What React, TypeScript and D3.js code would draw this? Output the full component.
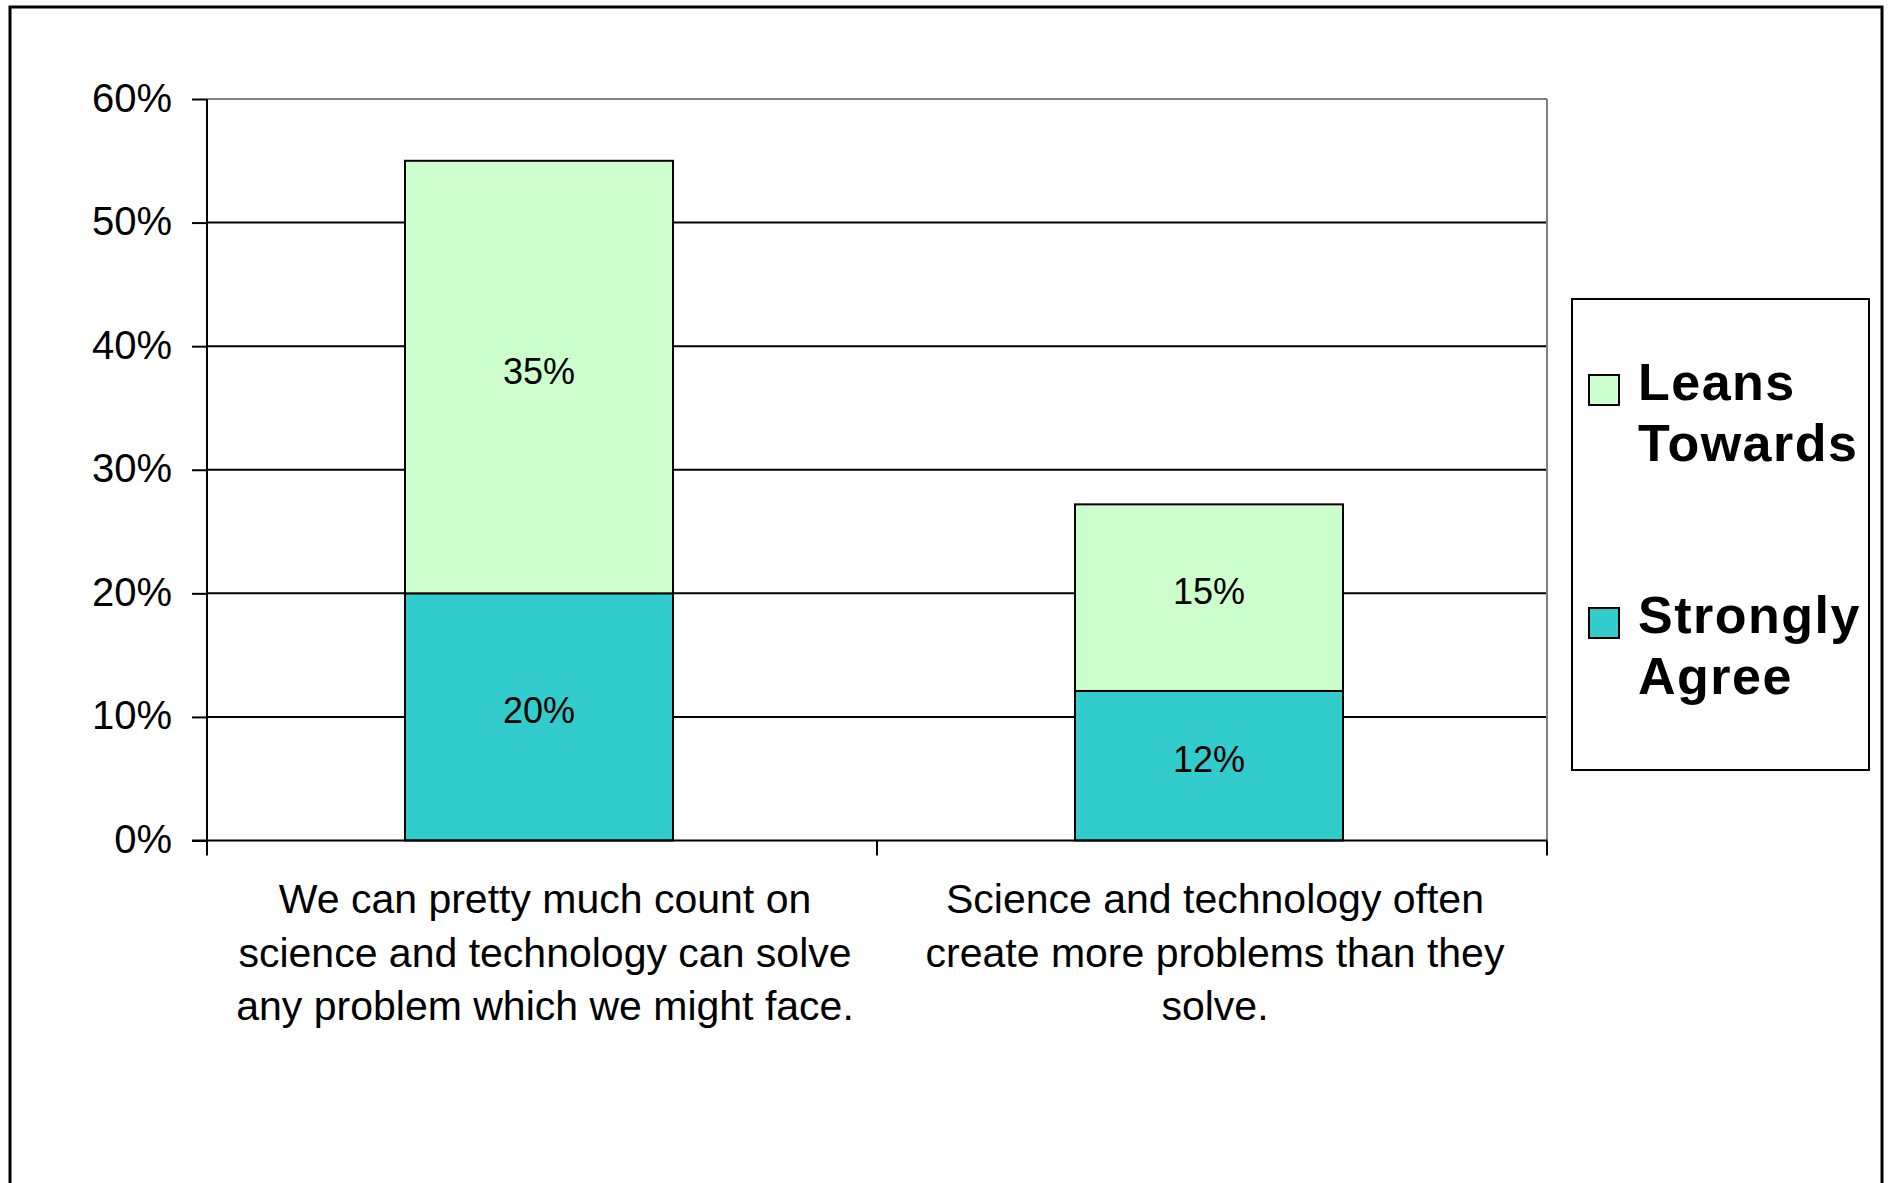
import React, { useEffect, useRef } from 'react';
import * as d3 from 'd3';

const categories = ['q1', 'q2'];
const categoryLines = [
  ['We can pretty much count on', 'science and technology can solve', 'any problem which we might face.'],
  ['Science and technology often', 'create more problems than they', 'solve.'],
];
const stronglyAgree = [20, 12.1];
const leansTowards = [35, 15.1];
const yTicks = [0, 10, 20, 30, 40, 50, 60];
const seriesKeys = ['strongly', 'leans'];
const seriesNames = [['Strongly', 'Agree'], ['Leans', 'Towards']];
const seriesColors = ['#33CCCC', '#CCFFCC'];

export default function App() {
  const svgRef = useRef<SVGSVGElement>(null);

  useEffect(() => {
    if (!svgRef.current) return;
    const root = d3.select(svgRef.current);
    root.selectAll('*').remove();

    const plot = { left: 207, top: 99, right: 1547, bottom: 840.5 };
    const font = '"Liberation Sans", Arial, sans-serif';

    // Outer frame (bottom edge runs off the picture)
    root
      .append('rect')
      .attr('x', 10)
      .attr('y', 7)
      .attr('width', 1872)
      .attr('height', 1400)
      .attr('fill', 'white')
      .attr('stroke', '#000')
      .attr('stroke-width', 3);

    const x = d3
      .scaleBand<string>()
      .domain(categories)
      .range([plot.left - 3, plot.right - 3])
      .paddingInner(0.6)
      .paddingOuter(0.3);

    // Category slots (axis ticks sit on their edges)
    const xCat = d3.scaleBand<string>().domain(categories).range([plot.left, plot.right]);

    const y = d3.scaleLinear().domain([0, 60]).range([plot.bottom, plot.top]);

    const table = categories.map((c, i) => ({
      cat: c,
      strongly: stronglyAgree[i],
      leans: leansTowards[i],
    }));
    const stacked = d3.stack<any>().keys(seriesKeys)(table);

    // Grid lines
    root
      .append('g')
      .selectAll('line')
      .data(yTicks.filter(t => t > 0))
      .join('line')
      .attr('x1', plot.left)
      .attr('x2', plot.right)
      .attr('y1', d => y(d))
      .attr('y2', d => y(d))
      .attr('stroke', d => (d === 60 ? '#808080' : '#000'))
      .attr('stroke-width', 2);

    // Right edge of the plot area
    root
      .append('line')
      .attr('x1', plot.right)
      .attr('x2', plot.right)
      .attr('y1', plot.top)
      .attr('y2', plot.bottom)
      .attr('stroke', '#808080')
      .attr('stroke-width', 2);

    // Bars
    const layers = root
      .append('g')
      .selectAll('g')
      .data(stacked)
      .join('g')
      .attr('fill', (_, i) => seriesColors[i]);

    layers
      .selectAll('rect')
      .data(d => d)
      .join('rect')
      .attr('x', d => x(d.data.cat) as number)
      .attr('width', x.bandwidth())
      .attr('y', d => y(d[1]))
      .attr('height', d => y(d[0]) - y(d[1]))
      .attr('stroke', '#000')
      .attr('stroke-width', 2);

    // Segment labels
    layers
      .selectAll('text')
      .data(d => d)
      .join('text')
      .attr('x', d => (x(d.data.cat) as number) + x.bandwidth() / 2)
      .attr('y', d => (y(d[0]) + y(d[1])) / 2)
      .attr('dy', '0.18em')
      .attr('text-anchor', 'middle')
      .attr('fill', '#000')
      .style('font-family', font)
      .style('font-size', '36px')
      .text(d => `${Math.round(d[1] - d[0])}%`);

    // Y axis
    const yAxis = root
      .append('g')
      .attr('transform', `translate(${plot.left},0)`)
      .call(
        d3.axisLeft(y)
          .tickValues(yTicks)
          .tickSize(15)
          .tickPadding(20)
          .tickFormat(d => `${d}%`)
      );
    yAxis.select('.domain').attr('stroke', '#000').attr('stroke-width', 2).attr('d', `M0,${plot.top}V${plot.bottom}`);
    yAxis.selectAll('.tick line').attr('stroke', '#000').attr('stroke-width', 2);
    yAxis
      .selectAll('.tick text')
      .attr('fill', '#000')
      .attr('dy', '0.3em')
      .style('font-family', font)
      .style('font-size', '40px');

    // X axis
    root
      .append('line')
      .attr('x1', plot.left - 15)
      .attr('x2', plot.right)
      .attr('y1', plot.bottom)
      .attr('y2', plot.bottom)
      .attr('stroke', '#000')
      .attr('stroke-width', 2);

    const boundaries = [...categories.map(c => xCat(c) as number), plot.right];
    root
      .append('g')
      .selectAll('line')
      .data(boundaries)
      .join('line')
      .attr('x1', d => d)
      .attr('x2', d => d)
      .attr('y1', plot.bottom)
      .attr('y2', plot.bottom + 15)
      .attr('stroke', '#000')
      .attr('stroke-width', 2);

    // Category labels
    const catLabels = root
      .append('g')
      .selectAll('text')
      .data(categories)
      .join('text')
      .attr('text-anchor', 'middle')
      .attr('fill', '#000')
      .style('font-family', font)
      .style('font-size', '41px');

    catLabels
      .selectAll('tspan')
      .data((c, i) => categoryLines[i].map(line => ({ line, cx: (xCat(c) as number) + xCat.bandwidth() / 2 + 3 })))
      .join('tspan')
      .attr('x', d => d.cx)
      .attr('y', (_, j) => 913 + j * 53.5)
      .text(d => d.line);

    // Legend
    const legend = root.append('g');
    legend
      .append('rect')
      .attr('x', 1572)
      .attr('y', 299)
      .attr('width', 297)
      .attr('height', 471)
      .attr('fill', 'white')
      .attr('stroke', '#000')
      .attr('stroke-width', 2);

    // Leans Towards listed first, then Strongly Agree
    const legendOrder = [1, 0];
    const legendTop = [400, 633];
    const items = legend
      .selectAll('g.item')
      .data(legendOrder)
      .join('g')
      .attr('class', 'item');

    items
      .append('rect')
      .attr('x', 1589)
      .attr('y', (_, i) => legendTop[i] - 25)
      .attr('width', 30)
      .attr('height', 30)
      .attr('fill', d => seriesColors[d])
      .attr('stroke', '#000')
      .attr('stroke-width', 2);

    items
      .append('text')
      .attr('fill', '#000')
      .style('font-family', font)
      .style('font-size', '52px')
      .style('font-weight', 'bold')
      .style('letter-spacing', '1.5px')
      .selectAll('tspan')
      .data((d, i) => seriesNames[d].map(s => ({ s, top: legendTop[i] })))
      .join('tspan')
      .attr('x', 1638)
      .attr('y', (d, j) => d.top + j * 61)
      .text(d => d.s);
  }, []);

  return (
    <svg
      ref={svgRef}
      width={1890}
      height={1183}
      style={{ position: 'absolute', left: 0, top: 0, background: 'white' }}
    />
  );
}
